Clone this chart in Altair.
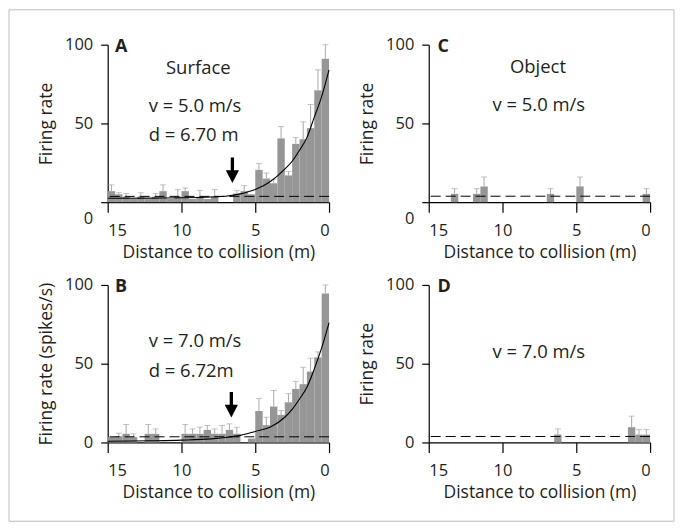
import altair as alt
import pandas as pd

# ---------------- data ----------------
# left edges of the 0.5 m distance bins (distance to collision, m)
BIN_LEFT = [15.0, 14.5, 14.0, 13.5, 13.0, 12.5, 12.0, 11.5, 11.0, 10.5,
            10.0, 9.5, 9.0, 8.5, 8.0, 7.5, 7.0, 6.5, 6.0, 5.5,
            5.0, 4.5, 4.0, 3.5, 3.0, 2.5, 2.0, 1.5, 1.0, 0.5]
BIN_W = 0.5

# Panel A: surface, v = 5.0 m/s
A_RATE = [7, 5, 3.5, 2, 3.5, 2, 3.5, 7, 2, 3.5,
          7, 2, 3.5, 2, 3.5, 0, 0, 5.5, 7, 5,
          20.5, 15, 12, 40.5, 17, 37, 40, 47, 71, 91]
A_ERR = [11, 6, 5.5, None, 6, None, 5.5, 11, None, 8,
         9, None, 7.5, None, 8, None, None, 7.5, 10.5, None,
         24.5, 18.5, 14.5, 48, 19.5, 41, 51, 62, 84, 100]

# Panel B: surface, v = 7.0 m/s
B_RATE = [3.4, 4, 5.5, 3.4, 0, 5.5, 5.5, 0, 0, 0,
          5.5, 5.5, 5.5, 8, 5.5, 5.5, 8, 5.5, 0, 2.5,
          20, 11, 22.8, 17.5, 25.5, 34, 37, 45, 54, 94.5]
B_ERR = [None, 5.9, 11.4, 5.5, None, 11.4, 8.6, None, None, None,
         11.4, 8.6, 9.7, 10.8, 8.6, 10.8, 11.8, 9.7, None, None,
         28, 16, 33, 20.3, 31, 38.8, 47.7, 53.5, 57.5, 100]

# Panel C: object, v = 5.0 m/s
C_RATE = [0, 0, 0, 5.3, 0, 0, 5.3, 10, 0, 0,
          0, 0, 0, 0, 0, 0, 5.3, 0, 0, 0,
          10, 0, 0, 0, 0, 0, 0, 0, 0, 5.3]
C_ERR = [None, None, None, 8.6, None, None, 8.6, 16, None, None,
         None, None, None, None, None, None, 8.6, None, None, None,
         16, None, None, None, None, None, None, None, None, 8.6]

# Panel D: object, v = 7.0 m/s
D_RATE = [0, 0, 0, 0, 0, 0, 0, 0, 0, 0,
          0, 0, 0, 0, 0, 0, 0, 5, 0, 0,
          0, 0, 0, 0, 0, 0, 0, 9.7, 5, 5]
D_ERR = [None, None, None, None, None, None, None, None, None, None,
         None, None, None, None, None, None, None, 8.6, None, None,
         None, None, None, None, None, None, None, 16.7, 8.2, 8.2]

# spontaneous (baseline) level, dashed line
DASH = {"A": 3.7, "B": 3.6, "C": 3.8, "D": 3.8}

# fitted curves
FIT_D = [15, 12, 10, 8, 7, 6, 5, 4, 3, 2.5, 2, 1.5, 1, 0.5, 0]
A_FIT = [2.5, 2.6, 2.8, 3.3, 3.8, 5.3, 8, 13, 21, 26, 33, 41, 54, 67, 84]
B_FIT = [0.8, 1.1, 1.5, 2.3, 3.2, 4.5, 7, 9.7, 16, 21, 27.6, 35, 46.6, 60, 76]

# arrows (distance, centre height)
A_ARROW = (6.55, 20.3)
B_ARROW = (6.62, 23.9)

TICK_X = [0, 2.5, 5, 7.5, 10, 12.5, 15]
TICK_Y = [0, 25, 50, 75, 100]

# ---------------- styling ----------------
FONT = "Open Sans"
TEXT = "#231f20"
BAR = "#969696"
ERRC = "#a9a9a9"
W, H = 222, 158
ARROW_PATH = "M-0.13,-1L0.13,-1L0.13,0L0.52,0L0,1L-0.52,0L-0.13,0Z"
NOTE_SIZE = 18.5

one = pd.DataFrame({"k": [0]})


def bins_df(rate, err):
    return pd.DataFrame({
        "left": BIN_LEFT,
        "right": [b - BIN_W for b in BIN_LEFT],
        "mid": [b - BIN_W / 2 for b in BIN_LEFT],
        "rate": rate,
        "err": err,
    })


def label(txt, x, y, align="left", size=NOTE_SIZE, weight="normal"):
    return alt.Chart(one).mark_text(
        text=txt, font=FONT, fontSize=size, fontWeight=weight, color=TEXT,
        align=align, baseline="middle"
    ).encode(x=alt.datum(x), y=alt.datum(y))


def panel(rate, err, dash, ytitle, top, fit=None, arrow=None, texts=(), frame=False):
    df = bins_df(rate, err)
    xs = alt.Scale(domain=[0, 15], reverse=True, nice=False, zero=False)
    ys = alt.Scale(domain=[0, 100], nice=False)
    xaxis = alt.Axis(
        values=TICK_X, labelExpr="datum.value % 5 == 0 ? datum.label : ''",
        title="Distance to collision (m)", titleX=W / 2, titleY=50,
        titleBaseline="middle", tickSize=10, labelPadding=10,
    )
    yargs = dict(
        values=TICK_Y, labelExpr="datum.value % 50 == 0 ? datum.label : ''",
        title=ytitle, titleX=-61, titleY=H / 2, titleBaseline="middle",
        tickSize=7, labelPadding=8,
    )
    if top:
        yargs["labelOffset"] = {"condition": {"test": "datum.value == 0", "value": 16}, "value": 0}
    yaxis = alt.Axis(**yargs)

    bars = alt.Chart(df).transform_filter("datum.rate > 0").transform_calculate(
        zero="0").mark_rect(color=BAR).encode(
        x=alt.X("left:Q", scale=xs, axis=xaxis),
        x2="right:Q",
        y=alt.Y("rate:Q", scale=ys, axis=yaxis),
        y2="zero:Q",
    )
    ebase = alt.Chart(df).transform_filter("isValid(datum.err) && datum.err > 0")
    erule = ebase.mark_rule(color=ERRC, strokeWidth=1).encode(
        x="mid:Q", y="rate:Q", y2="err:Q")
    ecap = ebase.mark_tick(color=ERRC, orient="horizontal", size=6, thickness=1).encode(
        x="mid:Q", y="err:Q")
    dashed = alt.Chart(one).mark_rule(color="black", strokeWidth=1, strokeDash=[10, 5]).encode(
        y=alt.datum(dash))
    layers = [bars, erule, ecap, dashed]
    if fit is not None:
        fdf = pd.DataFrame({"d": FIT_D, "v": fit})
        layers.append(alt.Chart(fdf).mark_line(color="black", strokeWidth=1.1,
                                               interpolate="monotone").encode(x="d:Q", y="v:Q"))
    if arrow is not None:
        adf = pd.DataFrame({"d": [arrow[0]], "v": [arrow[1]]})
        layers.append(alt.Chart(adf).mark_point(shape=ARROW_PATH, size=650, filled=True,
                                                color="black", opacity=1).encode(x="d:Q", y="v:Q"))
    for t in texts:
        layers.append(label(*t))
    if frame:
        layers.append(alt.Chart(one).mark_rect(fillOpacity=0, stroke="#bdbdbd", strokeWidth=1).encode(
            x=alt.value(-99), x2=alt.value(568), y=alt.value(-35), y2=alt.value(478)))
    return alt.layer(*layers).properties(width=W, height=H)


A = panel(A_RATE, A_ERR, DASH["A"], "Firing rate", True, fit=A_FIT, arrow=A_ARROW,
          texts=[("A", 14.5, 98.5, "left", 18, "bold"),
                 ("Surface", 8.86, 85.4, "center"),
                 ("v = 5.0 m/s", 12.22, 60.8, "left"),
                 ("d = 6.70 m", 12.22, 42.4, "left")], frame=True)
B = panel(B_RATE, B_ERR, DASH["B"], "Firing rate (spikes/s)", False, fit=B_FIT, arrow=B_ARROW,
          texts=[("B", 14.5, 98.5, "left", 18, "bold"),
                 ("v = 7.0 m/s", 12.22, 64.6, "left"),
                 ("d = 6.72m", 12.22, 45.6, "left")])
C = panel(C_RATE, C_ERR, DASH["C"], "Firing rate", True,
          texts=[("C", 14.4, 98.5, "left", 18, "bold"),
                 ("Object", 7.6, 86, "center"),
                 ("v = 5.0 m/s", 7.54, 61.4, "center")])
D = panel(D_RATE, D_ERR, DASH["D"], "Firing rate", False,
          texts=[("D", 14.4, 98.5, "left", 18, "bold"),
                 ("v = 7.0 m/s", 7.54, 57.2, "center")])

chart = alt.concat(A, C, B, D, columns=2, spacing={"row": 83, "column": 100},
                   bounds="flush").properties(padding=0, background="white").configure_view(
    strokeWidth=0).configure_axis(
    domainColor="black", domainWidth=1.2, tickColor="black", tickWidth=1.2, grid=False,
    labelFont=FONT, labelFontSize=16.5, labelColor=TEXT,
    titleFont=FONT, titleFontSize=17.5, titleFontWeight="normal", titleColor=TEXT,
)

chart.save("out.html", embed_options={"renderer": "svg", "actions": False})
